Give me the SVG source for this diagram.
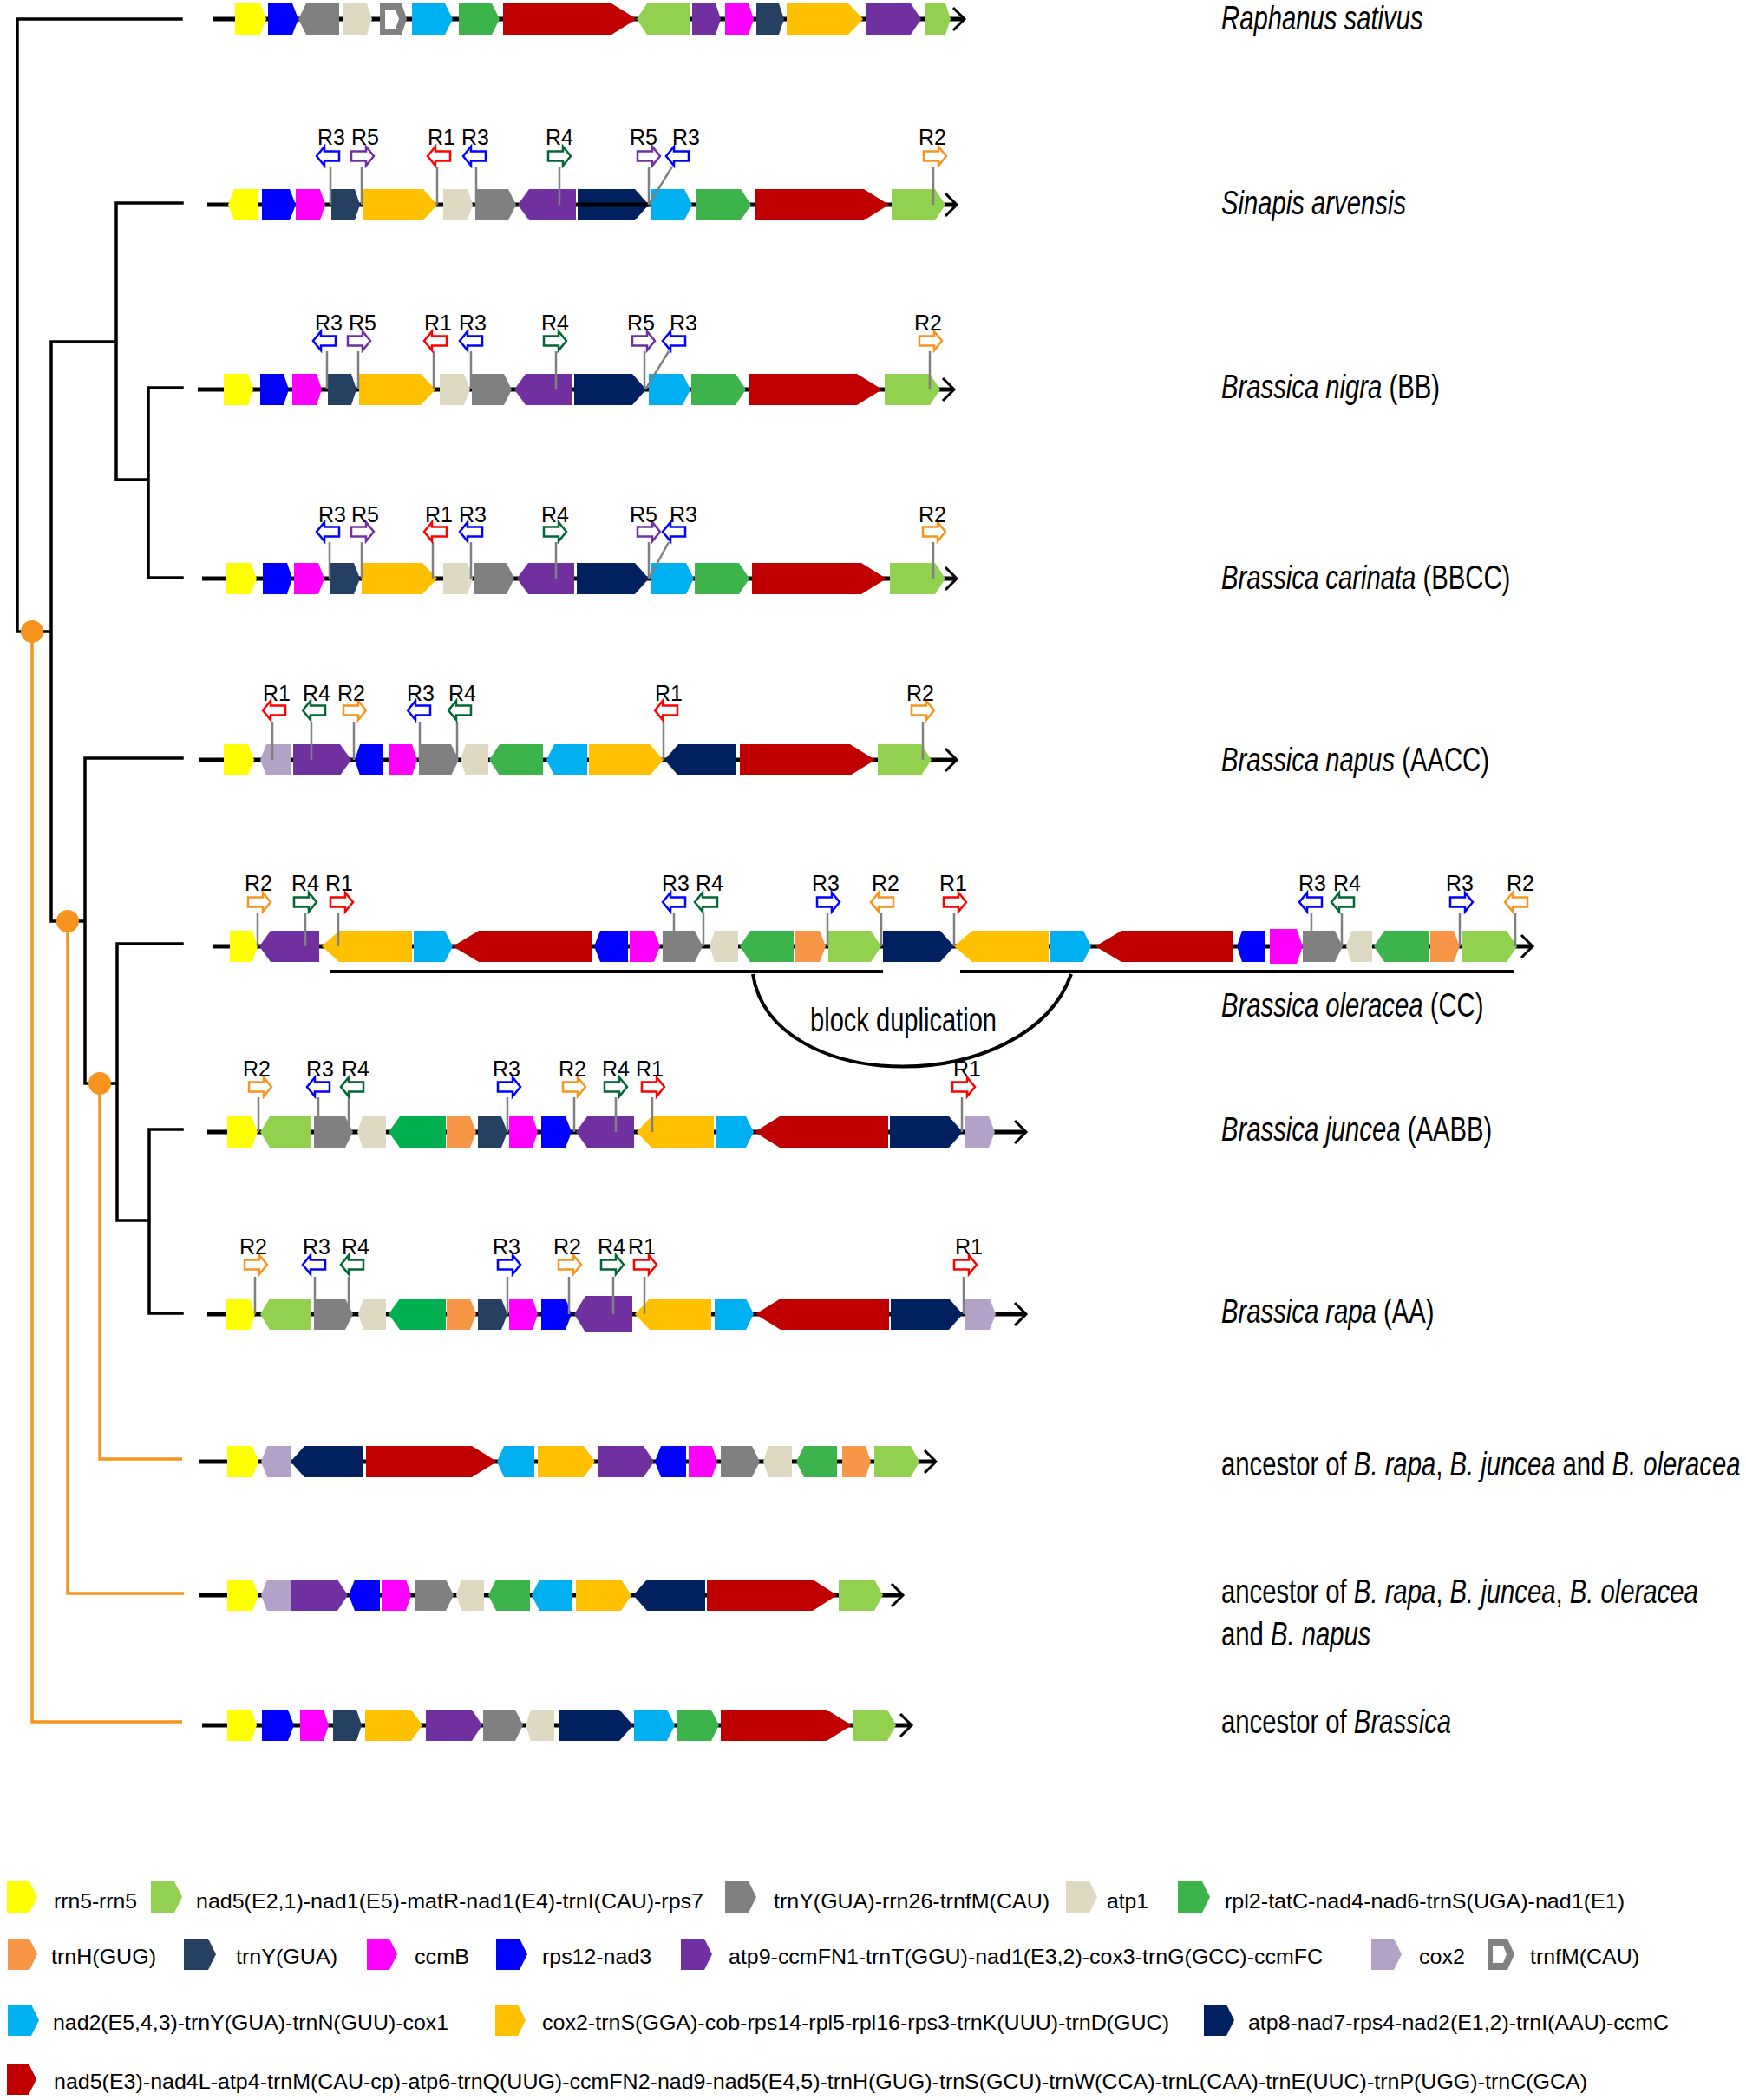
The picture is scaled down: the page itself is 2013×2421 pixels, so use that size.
<svg xmlns="http://www.w3.org/2000/svg" width="2013" height="2421" viewBox="0 0 2013 2421">
<style>
.y{fill:#FFFF00}.b{fill:#0000FF}.g{fill:#808080}.be{fill:#DDD9C3}.lb{fill:#00B0F0}.gr{fill:#3CB44B}.dg{fill:#00B050}.r{fill:#C00000}.lg{fill:#92D050}.p{fill:#7030A0}.m{fill:#FF00FF}.s{fill:#254061}.go{fill:#FFC000}.n{fill:#002060}.o{fill:#F79646}.li{fill:#B3A2C7}.w{fill:#FFFFFF}
.gl{stroke:#000;stroke-width:5;fill:none}
.ch{fill:none;stroke:#000;stroke-width:3}
.st{stroke:#808080;stroke-width:2.5;fill:none}
.mk{fill:#fff;stroke-width:2.5}
.kr{stroke:#FF0000}.kb{stroke:#0000FF}.kg{stroke:#006633}.kp{stroke:#7030A0}.ko{stroke:#F7941D}
.rl{font-family:"Liberation Sans",Arial,sans-serif;font-size:25px;text-anchor:middle;fill:#000}
.sp{font-family:"Liberation Sans",Arial,sans-serif;font-size:38px;fill:#000}
.lt{font-family:"Liberation Sans",Arial,sans-serif;font-size:24px;fill:#000}
.it{font-style:italic}
.tr{stroke:#000;stroke-width:3.5;fill:none;stroke-linecap:square}
.to{stroke:#F7941D;stroke-width:3.5;fill:none}
.ul{stroke:#000;stroke-width:4;fill:none}
</style>
<defs>
<path id="mR" d="M-13,-5.5 H4 V-11 L13,0 L4,11 V5.5 H-13 Z"/>
<path id="mL" d="M13,-5.5 H-4 V-11 L-13,0 L-4,11 V5.5 H13 Z"/>
</defs>

<g id="tree">
<path class="tr" d="M20 22 H209 M20 22 V728 H59 M59 394 V1062 M59 394 H134 M134 234 V553 M134 234 H210 M134 553 H171 M171 447 V666 M171 447 H210 M171 666 H210 M59 1062 H98 M98 874 V1249 M98 874 H210 M98 1249 H135 M135 1088 V1407 M135 1088 H210 M135 1407 H172 M172 1302 V1514 M172 1302 H210 M172 1514 H210"/>
<path class="to" d="M37 728 V1985 H210 M78 1062 V1837 H212 M115 1249 V1682 H210"/>
<circle cx="37" cy="728" r="13" fill="#F7941D"/>
<circle cx="78" cy="1062" r="13" fill="#F7941D"/>
<circle cx="115" cy="1249" r="13" fill="#F7941D"/>
</g>

<g id="row-raphanus">
<path class="gl" d="M245 22 H1111"/><path class="ch" d="M1099 9 L1112 22 L1099 35"/>
<polygon class="y" points="271,4 300,4 307,22 300,40 271,40"/>
<polygon class="b" points="309,4 337,4 344,22 337,40 309,40"/>
<polygon class="g" points="344,22 353,4 391,4 391,40 353,40"/>
<polygon class="be" points="395,4 423,4 429,22 423,40 395,40"/>
<polygon class="g" points="438,4 463,4 469,22 463,40 438,40"/>
<polygon class="w" points="444,11 456,11 460,22 456,33 444,33"/>
<polygon class="lb" points="475,4 513,4 522,22 513,40 475,40"/>
<polygon class="gr" points="529,4 567,4 576,22 567,40 529,40"/>
<polygon class="r" points="580,4 705,4 734,22 705,40 580,40"/>
<polygon class="lg" points="734,22 746,4 795,4 795,40 746,40"/>
<polygon class="p" points="798,4 825,4 831,22 825,40 798,40"/>
<polygon class="m" points="836,4 863,4 869,22 863,40 836,40"/>
<polygon class="s" points="872,4 898,4 904,22 898,40 872,40"/>
<polygon class="go" points="907,4 978,4 995,22 978,40 907,40"/>
<polygon class="p" points="998,4 1050,4 1062,22 1050,40 998,40"/>
<polygon class="lg" points="1066,4 1090,4 1096,22 1090,40 1066,40"/>
<text class="sp it" transform="translate(1408,34) scale(0.77,1)">Raphanus sativus</text>
</g>

<g id="row-sinapis">
<path class="gl" d="M239 236 H1102"/><path class="ch" d="M1090 223 L1103 236 L1090 249"/>
<polygon class="y" points="263,236 270,218 298,218 298,254 270,254"/>
<polygon class="b" points="302,218 334,218 341,236 334,254 302,254"/>
<polygon class="m" points="341,218 369,218 375,236 369,254 341,254"/>
<polygon class="s" points="382,218 409,218 415,236 409,254 382,254"/>
<polygon class="go" points="419,218 488,218 504,236 488,254 419,254"/>
<polygon class="be" points="511,218 539,218 545,236 539,254 511,254"/>
<polygon class="g" points="548,218 586,218 595,236 586,254 548,254"/>
<polygon class="p" points="597,236 610,218 664,218 664,254 610,254"/>
<polygon class="n" points="666,218 732,218 748,236 732,254 666,254"/>
<path class="gl" d="M666 236 H748"/>
<polygon class="lb" points="751,218 789,218 798,236 789,254 751,254"/>
<polygon class="gr" points="802,218 854,218 866,236 854,254 802,254"/>
<polygon class="r" points="870,218 996,218 1025,236 996,254 870,254"/>
<polygon class="lg" points="1028,218 1078,218 1090,236 1078,254 1028,254"/>
<path class="st" d="M381 192 V236 M417 192 V236 M504 192 V236 M549 192 V236 M645 192 V236 M748 192 V236 M775 192 L748 236 M1076 192 V236"/>
<use href="#mL" x="378" y="180" class="mk kb"/>
<use href="#mR" x="418" y="180" class="mk kp"/>
<use href="#mL" x="506" y="180" class="mk kr"/>
<use href="#mL" x="547" y="180" class="mk kb"/>
<use href="#mR" x="645" y="180" class="mk kg"/>
<use href="#mR" x="748" y="180" class="mk kp"/>
<use href="#mL" x="781" y="180" class="mk kb"/>
<use href="#mR" x="1078" y="180" class="mk ko"/>
<text class="rl" x="382" y="167">R3</text><text class="rl" x="421" y="167">R5</text><text class="rl" x="509" y="167">R1</text><text class="rl" x="548" y="167">R3</text><text class="rl" x="645" y="167">R4</text><text class="rl" x="742" y="167">R5</text><text class="rl" x="791" y="167">R3</text><text class="rl" x="1075" y="167">R2</text>
<text class="sp it" transform="translate(1408,247) scale(0.77,1)">Sinapis arvensis</text>
</g>

<g id="row-nigra">
<path class="gl" d="M228 449 H1099"/><path class="ch" d="M1087 436 L1100 449 L1087 462"/>
<polygon class="y" points="258,431 286,431 292,449 286,467 258,467"/>
<polygon class="b" points="300,431 327,431 333,449 327,467 300,467"/>
<polygon class="m" points="337,431 365,431 371,449 365,467 337,467"/>
<polygon class="s" points="378,431 405,431 411,449 405,467 378,467"/>
<polygon class="go" points="414,431 485,431 502,449 485,467 414,467"/>
<polygon class="be" points="507,431 535,431 542,449 535,467 507,467"/>
<polygon class="g" points="544,431 581,431 590,449 581,467 544,467"/>
<polygon class="p" points="593,449 606,431 659,431 659,467 606,467"/>
<polygon class="n" points="662,431 729,431 745,449 729,467 662,467"/>
<polygon class="lb" points="748,431 787,431 796,449 787,467 748,467"/>
<polygon class="gr" points="797,431 848,431 860,449 848,467 797,467"/>
<polygon class="r" points="863,431 988,431 1017,449 988,467 863,467"/>
<polygon class="lg" points="1020,431 1072,431 1084,449 1072,467 1020,467"/>
<path class="st" d="M377 405 V449 M413 405 V449 M500 405 V449 M543 405 V449 M641 405 V449 M743 405 V449 M771 405 L744 449 M1072 405 V449"/>
<use href="#mL" x="374" y="393" class="mk kb"/>
<use href="#mR" x="414" y="393" class="mk kp"/>
<use href="#mL" x="502" y="393" class="mk kr"/>
<use href="#mL" x="543" y="393" class="mk kb"/>
<use href="#mR" x="640" y="393" class="mk kg"/>
<use href="#mR" x="742" y="393" class="mk kp"/>
<use href="#mL" x="777" y="393" class="mk kb"/>
<use href="#mR" x="1073" y="393" class="mk ko"/>
<text class="rl" x="379" y="381">R3</text><text class="rl" x="418" y="381">R5</text><text class="rl" x="505" y="381">R1</text><text class="rl" x="545" y="381">R3</text><text class="rl" x="640" y="381">R4</text><text class="rl" x="739" y="381">R5</text><text class="rl" x="788" y="381">R3</text><text class="rl" x="1070" y="381">R2</text>
<text class="sp" transform="translate(1408,459) scale(0.77,1)"><tspan class="it">Brassica nigra</tspan> (BB)</text>
</g>

<g id="row-carinata">
<path class="gl" d="M233 667 H1102"/><path class="ch" d="M1090 654 L1103 667 L1090 680"/>
<polygon class="y" points="260,649 289,649 296,667 289,685 260,685"/>
<polygon class="b" points="303,649 331,649 337,667 331,685 303,685"/>
<polygon class="m" points="339,649 367,649 374,667 367,685 339,685"/>
<polygon class="s" points="380,649 408,649 415,667 408,685 380,685"/>
<polygon class="go" points="417,649 487,649 504,667 487,685 417,685"/>
<polygon class="be" points="511,649 539,649 545,667 539,685 511,685"/>
<polygon class="g" points="547,649 584,649 593,667 584,685 547,685"/>
<polygon class="p" points="596,667 609,649 662,649 662,685 609,685"/>
<polygon class="n" points="665,649 732,649 748,667 732,685 665,685"/>
<polygon class="lb" points="751,649 791,649 800,667 791,685 751,685"/>
<polygon class="gr" points="801,649 852,649 864,667 852,685 801,685"/>
<polygon class="r" points="867,649 993,649 1022,667 993,685 867,685"/>
<polygon class="lg" points="1026,649 1078,649 1090,667 1078,685 1026,685"/>
<path class="st" d="M380 625 V667 M417 625 V667 M499 625 V667 M543 625 V667 M641 625 V667 M748 625 V667 M771 625 L748 667 M1076 625 V667"/>
<use href="#mL" x="378" y="613" class="mk kb"/>
<use href="#mR" x="418" y="613" class="mk kp"/>
<use href="#mL" x="502" y="613" class="mk kr"/>
<use href="#mL" x="543" y="613" class="mk kb"/>
<use href="#mR" x="640" y="613" class="mk kg"/>
<use href="#mR" x="748" y="613" class="mk kp"/>
<use href="#mL" x="777" y="613" class="mk kb"/>
<use href="#mR" x="1077" y="613" class="mk ko"/>
<text class="rl" x="383" y="602">R3</text><text class="rl" x="421" y="602">R5</text><text class="rl" x="506" y="602">R1</text><text class="rl" x="545" y="602">R3</text><text class="rl" x="640" y="602">R4</text><text class="rl" x="742" y="602">R5</text><text class="rl" x="788" y="602">R3</text><text class="rl" x="1075" y="602">R2</text>
<text class="sp" transform="translate(1408,679) scale(0.77,1)"><tspan class="it">Brassica carinata</tspan> (BBCC)</text>
</g>

<g id="row-napus">
<path class="gl" d="M230 876 H1102"/><path class="ch" d="M1090 863 L1103 876 L1090 889"/>
<polygon class="y" points="258,858 286,858 293,876 286,894 258,894"/>
<polygon class="li" points="300,876 307,858 335,858 335,894 307,894"/>
<polygon class="p" points="338,858 392,858 405,876 392,894 338,894"/>
<polygon class="b" points="409,876 415,858 441,858 441,894 415,894"/>
<polygon class="m" points="448,858 475,858 481,876 475,894 448,894"/>
<polygon class="g" points="483,858 520,858 529,876 520,894 483,894"/>
<polygon class="be" points="531,876 537,858 563,858 563,894 537,894"/>
<polygon class="gr" points="564,876 576,858 626,858 626,894 576,894"/>
<polygon class="lb" points="630,876 639,858 677,858 677,894 639,894"/>
<polygon class="go" points="679,858 749,858 765,876 749,894 679,894"/>
<polygon class="n" points="766,876 782,858 848,858 848,894 782,894"/>
<polygon class="r" points="853,858 980,858 1009,876 980,894 853,894"/>
<polygon class="lg" points="1012,858 1062,858 1074,876 1062,894 1012,894"/>
<path class="st" d="M314 832 V876 M359 832 V876 M408 832 V876 M484 832 V876 M527 832 V876 M765 832 V876 M1064 832 V876"/>
<use href="#mL" x="316" y="819" class="mk kr"/>
<use href="#mL" x="362" y="819" class="mk kg"/>
<use href="#mR" x="409" y="819" class="mk ko"/>
<use href="#mL" x="483" y="819" class="mk kb"/>
<use href="#mL" x="530" y="819" class="mk kg"/>
<use href="#mL" x="768" y="819" class="mk kr"/>
<use href="#mR" x="1064" y="819" class="mk ko"/>
<text class="rl" x="319" y="808">R1</text><text class="rl" x="365" y="808">R4</text><text class="rl" x="405" y="808">R2</text><text class="rl" x="485" y="808">R3</text><text class="rl" x="533" y="808">R4</text><text class="rl" x="771" y="808">R1</text><text class="rl" x="1061" y="808">R2</text>
<text class="sp" transform="translate(1408,889) scale(0.77,1)"><tspan class="it">Brassica napus</tspan> (AACC)</text>
</g>

<g id="row-oleracea">
<path class="gl" d="M245 1091 H1766"/><path class="ch" d="M1754 1078 L1767 1091 L1754 1104"/>
<polygon class="y" points="265,1073 291,1073 297,1091 291,1109 265,1109"/>
<polygon class="p" points="299,1091 312,1073 368,1073 368,1109 312,1109"/>
<polygon class="go" points="371,1091 391,1073 475,1073 475,1109 391,1109"/>
<polygon class="lb" points="477,1073 513,1073 522,1091 513,1109 477,1109"/>
<polygon class="r" points="522,1091 552,1073 682,1073 682,1109 552,1109"/>
<polygon class="b" points="685,1091 692,1073 724,1073 724,1109 692,1109"/>
<polygon class="m" points="726,1073 754,1073 761,1091 754,1109 726,1109"/>
<polygon class="g" points="764,1073 801,1073 810,1091 801,1109 764,1109"/>
<polygon class="be" points="818,1091 824,1073 851,1073 851,1109 824,1109"/>
<polygon class="gr" points="853,1091 865,1073 915,1073 915,1109 865,1109"/>
<polygon class="o" points="917,1073 945,1073 952,1091 945,1109 917,1109"/>
<polygon class="lg" points="955,1073 1004,1073 1016,1091 1004,1109 955,1109"/>
<polygon class="n" points="1018,1073 1084,1073 1100,1091 1084,1109 1018,1109"/>
<polygon class="go" points="1100,1091 1121,1073 1209,1073 1209,1109 1121,1109"/>
<polygon class="lb" points="1211,1073 1249,1073 1258,1091 1249,1109 1211,1109"/>
<polygon class="r" points="1263,1091 1293,1073 1421,1073 1421,1109 1293,1109"/>
<polygon class="b" points="1426,1091 1432,1073 1459,1073 1459,1109 1432,1109"/>
<polygon class="m" points="1464,1071 1495,1071 1502,1091 1495,1111 1464,1111"/>
<polygon class="g" points="1502,1073 1539,1073 1548,1091 1539,1109 1502,1109"/>
<polygon class="be" points="1552,1091 1558,1073 1582,1073 1582,1109 1558,1109"/>
<polygon class="gr" points="1584,1091 1596,1073 1647,1073 1647,1109 1596,1109"/>
<polygon class="o" points="1649,1073 1676,1073 1683,1091 1676,1109 1649,1109"/>
<polygon class="lg" points="1686,1073 1737,1073 1749,1091 1737,1109 1686,1109"/>
<path class="st" d="M297 1052 V1091 M352 1052 V1091 M390 1052 V1091 M777 1052 V1091 M811 1052 V1091 M954 1052 V1091 M1016 1052 V1091 M1100 1052 V1091 M1512 1052 V1091 M1547 1052 V1091 M1683 1052 V1091 M1747 1052 V1091"/>
<use href="#mR" x="299" y="1040" class="mk ko"/>
<use href="#mR" x="352" y="1040" class="mk kg"/>
<use href="#mR" x="394" y="1040" class="mk kr"/>
<use href="#mL" x="777" y="1040" class="mk kb"/>
<use href="#mL" x="814" y="1040" class="mk kg"/>
<use href="#mR" x="955" y="1040" class="mk kb"/>
<use href="#mL" x="1017" y="1040" class="mk ko"/>
<use href="#mR" x="1101" y="1040" class="mk kr"/>
<use href="#mL" x="1511" y="1040" class="mk kb"/>
<use href="#mL" x="1548" y="1040" class="mk kg"/>
<use href="#mR" x="1685" y="1040" class="mk kb"/>
<use href="#mL" x="1748" y="1040" class="mk ko"/>
<text class="rl" x="298" y="1027">R2</text><text class="rl" x="352" y="1027">R4</text><text class="rl" x="391" y="1027">R1</text><text class="rl" x="779" y="1027">R3</text><text class="rl" x="818" y="1027">R4</text><text class="rl" x="952" y="1027">R3</text><text class="rl" x="1021" y="1027">R2</text><text class="rl" x="1099" y="1027">R1</text><text class="rl" x="1513" y="1027">R3</text><text class="rl" x="1553" y="1027">R4</text><text class="rl" x="1683" y="1027">R3</text><text class="rl" x="1753" y="1027">R2</text>
<path class="ul" d="M380 1120 H1018 M1107 1120 H1745"/>
<path class="ul" d="M868 1123 C890 1265 1185 1265 1235 1123" stroke-width="3.5"/>
<text class="sp" x="934" y="1189" font-size="34" textLength="215" lengthAdjust="spacingAndGlyphs">block duplication</text>
<text class="sp" transform="translate(1408,1172) scale(0.77,1)"><tspan class="it">Brassica oleracea</tspan> (CC)</text>
</g>

<g id="row-juncea">
<path class="gl" d="M239 1305 H1182"/><path class="ch" d="M1170 1292 L1183 1305 L1170 1318"/>
<polygon class="y" points="262,1287 290,1287 297,1305 290,1323 262,1323"/>
<polygon class="lg" points="300,1305 311,1287 358,1287 358,1323 311,1323"/>
<polygon class="g" points="362,1287 398,1287 407,1305 398,1323 362,1323"/>
<polygon class="be" points="412,1305 418,1287 445,1287 445,1323 418,1323"/>
<polygon class="dg" points="448,1305 461,1287 514,1287 514,1323 461,1323"/>
<polygon class="o" points="515,1287 542,1287 549,1305 542,1323 515,1323"/>
<polygon class="s" points="551,1287 578,1287 585,1305 578,1323 551,1323"/>
<polygon class="m" points="587,1287 614,1287 620,1305 614,1323 587,1323"/>
<polygon class="b" points="624,1287 652,1287 659,1305 652,1323 624,1323"/>
<polygon class="p" points="664,1305 677,1287 731,1287 731,1323 677,1323"/>
<polygon class="go" points="734,1305 751,1287 823,1287 823,1323 751,1323"/>
<polygon class="lb" points="826,1287 860,1287 869,1305 860,1323 826,1323"/>
<polygon class="r" points="870,1305 899,1287 1024,1287 1024,1323 899,1323"/>
<polygon class="n" points="1026,1287 1094,1287 1110,1305 1094,1323 1026,1323"/>
<polygon class="li" points="1112,1287 1140,1287 1147,1305 1140,1323 1112,1323"/>
<path class="st" d="M298 1265 V1305 M367 1265 V1305 M402 1265 V1305 M585 1265 V1305 M662 1265 V1305 M710 1265 V1305 M752 1265 V1305 M1109 1265 V1305"/>
<use href="#mR" x="300" y="1253" class="mk ko"/>
<use href="#mL" x="367" y="1253" class="mk kb"/>
<use href="#mL" x="406" y="1253" class="mk kg"/>
<use href="#mR" x="587" y="1253" class="mk kb"/>
<use href="#mR" x="662" y="1253" class="mk ko"/>
<use href="#mR" x="710" y="1253" class="mk kg"/>
<use href="#mR" x="753" y="1253" class="mk kr"/>
<use href="#mR" x="1111" y="1253" class="mk kr"/>
<text class="rl" x="296" y="1241">R2</text><text class="rl" x="369" y="1241">R3</text><text class="rl" x="410" y="1241">R4</text><text class="rl" x="584" y="1241">R3</text><text class="rl" x="660" y="1241">R2</text><text class="rl" x="710" y="1241">R4</text><text class="rl" x="749" y="1241">R1</text><text class="rl" x="1115" y="1241">R1</text>
<text class="sp" transform="translate(1408,1315) scale(0.77,1)"><tspan class="it">Brassica juncea</tspan> (AABB)</text>
</g>

<g id="row-rapa">
<path class="gl" d="M239 1515 H1182"/><path class="ch" d="M1170 1502 L1183 1515 L1170 1528"/>
<polygon class="y" points="260,1497 288,1497 294,1515 288,1533 260,1533"/>
<polygon class="lg" points="300,1515 311,1497 358,1497 358,1533 311,1533"/>
<polygon class="g" points="362,1497 398,1497 407,1515 398,1533 362,1533"/>
<polygon class="be" points="413,1515 419,1497 445,1497 445,1533 419,1533"/>
<polygon class="dg" points="448,1515 461,1497 514,1497 514,1533 461,1533"/>
<polygon class="o" points="515,1497 542,1497 549,1515 542,1533 515,1533"/>
<polygon class="s" points="551,1497 578,1497 585,1515 578,1533 551,1533"/>
<polygon class="m" points="587,1497 614,1497 620,1515 614,1533 587,1533"/>
<polygon class="b" points="624,1497 652,1497 659,1515 652,1533 624,1533"/>
<polygon class="p" points="662,1515 675,1494 729,1494 729,1536 675,1536"/>
<polygon class="go" points="732,1515 749,1497 820,1497 820,1533 749,1533"/>
<polygon class="lb" points="824,1497 860,1497 869,1515 860,1533 824,1533"/>
<polygon class="r" points="871,1515 900,1497 1025,1497 1025,1533 900,1533"/>
<polygon class="n" points="1027,1497 1094,1497 1110,1515 1094,1533 1027,1533"/>
<polygon class="li" points="1113,1497 1141,1497 1148,1515 1141,1533 1113,1533"/>
<path class="st" d="M294 1472 V1515 M363 1472 V1515 M402 1472 V1515 M585 1472 V1515 M656 1472 V1515 M707 1472 V1515 M743 1472 V1515 M1111 1472 V1515"/>
<use href="#mR" x="295" y="1458" class="mk ko"/>
<use href="#mL" x="362" y="1458" class="mk kb"/>
<use href="#mL" x="406" y="1458" class="mk kg"/>
<use href="#mR" x="587" y="1458" class="mk kb"/>
<use href="#mR" x="657" y="1458" class="mk ko"/>
<use href="#mR" x="706" y="1458" class="mk kg"/>
<use href="#mR" x="744" y="1458" class="mk kr"/>
<use href="#mR" x="1113" y="1458" class="mk kr"/>
<text class="rl" x="292" y="1446">R2</text><text class="rl" x="365" y="1446">R3</text><text class="rl" x="410" y="1446">R4</text><text class="rl" x="584" y="1446">R3</text><text class="rl" x="654" y="1446">R2</text><text class="rl" x="705" y="1446">R4</text><text class="rl" x="740" y="1446">R1</text><text class="rl" x="1117" y="1446">R1</text>
<text class="sp" transform="translate(1408,1525) scale(0.77,1)"><tspan class="it">Brassica rapa</tspan> (AA)</text>
</g>

<g id="row-ancestor-rjo">
<path class="gl" d="M230 1685 H1078"/><path class="ch" d="M1066 1672 L1079 1685 L1066 1698"/>
<polygon class="y" points="262,1667 291,1667 298,1685 291,1703 262,1703"/>
<polygon class="li" points="301,1685 308,1667 335,1667 335,1703 308,1703"/>
<polygon class="n" points="335,1685 351,1667 418,1667 418,1703 351,1703"/>
<polygon class="r" points="422,1667 544,1667 573,1685 544,1703 422,1703"/>
<polygon class="lb" points="573,1685 581,1667 616,1667 616,1703 581,1703"/>
<polygon class="go" points="620,1667 673,1667 686,1685 673,1703 620,1703"/>
<polygon class="p" points="689,1667 742,1667 754,1685 742,1703 689,1703"/>
<polygon class="b" points="755,1685 762,1667 791,1667 791,1703 762,1703"/>
<polygon class="m" points="794,1667 821,1667 827,1685 821,1703 794,1703"/>
<polygon class="g" points="831,1667 867,1667 876,1685 867,1703 831,1703"/>
<polygon class="be" points="880,1685 886,1667 913,1667 913,1703 886,1703"/>
<polygon class="gr" points="918,1685 927,1667 965,1667 965,1703 927,1703"/>
<polygon class="o" points="971,1667 998,1667 1004,1685 998,1703 971,1703"/>
<polygon class="lg" points="1008,1667 1050,1667 1060,1685 1050,1703 1008,1703"/>
<text class="sp" transform="translate(1408,1701) scale(0.77,1)">ancestor of <tspan class="it">B. rapa</tspan>, <tspan class="it">B. juncea</tspan> and <tspan class="it">B. oleracea</tspan></text>
</g>

<g id="row-ancestor-rjon">
<path class="gl" d="M230 1839 H1040"/><path class="ch" d="M1028 1826 L1041 1839 L1028 1852"/>
<polygon class="y" points="262,1821 291,1821 298,1839 291,1857 262,1857"/>
<polygon class="li" points="301,1839 308,1821 335,1821 335,1857 308,1857"/>
<polygon class="p" points="336,1821 389,1821 401,1839 389,1857 336,1857"/>
<polygon class="b" points="402,1839 409,1821 438,1821 438,1857 409,1857"/>
<polygon class="m" points="440,1821 468,1821 474,1839 468,1857 440,1857"/>
<polygon class="g" points="478,1821 514,1821 523,1839 514,1857 478,1857"/>
<polygon class="be" points="526,1839 532,1821 558,1821 558,1857 532,1857"/>
<polygon class="gr" points="563,1839 572,1821 611,1821 611,1857 572,1857"/>
<polygon class="lb" points="613,1839 622,1821 660,1821 660,1857 622,1857"/>
<polygon class="go" points="664,1821 716,1821 728,1839 716,1857 664,1857"/>
<polygon class="n" points="730,1839 746,1821 813,1821 813,1857 746,1857"/>
<polygon class="r" points="815,1821 937,1821 965,1839 937,1857 815,1857"/>
<polygon class="lg" points="967,1821 1008,1821 1018,1839 1008,1857 967,1857"/>
<text class="sp" transform="translate(1408,1848) scale(0.77,1)">ancestor of <tspan class="it">B. rapa</tspan>, <tspan class="it">B. juncea</tspan>, <tspan class="it">B. oleracea</tspan></text>
<text class="sp" transform="translate(1408,1897) scale(0.77,1)">and <tspan class="it">B. napus</tspan></text>
</g>

<g id="row-ancestor-brassica">
<path class="gl" d="M233 1989 H1050"/><path class="ch" d="M1038 1976 L1051 1989 L1038 2002"/>
<polygon class="y" points="262,1971 290,1971 296,1989 290,2007 262,2007"/>
<polygon class="b" points="302,1971 332,1971 339,1989 332,2007 302,2007"/>
<polygon class="m" points="346,1971 373,1971 379,1989 373,2007 346,2007"/>
<polygon class="s" points="384,1971 411,1971 417,1989 411,2007 384,2007"/>
<polygon class="go" points="421,1971 474,1971 487,1989 474,2007 421,2007"/>
<polygon class="p" points="491,1971 544,1971 556,1989 544,2007 491,2007"/>
<polygon class="g" points="557,1971 594,1971 603,1989 594,2007 557,2007"/>
<polygon class="be" points="606,1989 612,1971 639,1971 639,2007 612,2007"/>
<polygon class="n" points="645,1971 714,1971 730,1989 714,2007 645,2007"/>
<polygon class="lb" points="731,1971 769,1971 778,1989 769,2007 731,2007"/>
<polygon class="gr" points="780,1971 820,1971 829,1989 820,2007 780,2007"/>
<polygon class="r" points="831,1971 953,1971 982,1989 953,2007 831,2007"/>
<polygon class="lg" points="983,1971 1023,1971 1033,1989 1023,2007 983,2007"/>
<text class="sp" transform="translate(1408,1998) scale(0.77,1)">ancestor of <tspan class="it">Brassica</tspan></text>
</g>

<g id="legend">
<polygon class="y" points="8,2169 34,2169 43,2187 34,2205 8,2205"/>
<text class="lt" x="62" y="2200" textLength="96" lengthAdjust="spacingAndGlyphs">rrn5-rrn5</text>
<polygon class="lg" points="174,2169 201,2169 210,2187 201,2205 174,2205"/>
<text class="lt" x="226" y="2200" textLength="585" lengthAdjust="spacingAndGlyphs">nad5(E2,1)-nad1(E5)-matR-nad1(E4)-trnI(CAU)-rps7</text>
<polygon class="g" points="836,2169 863,2169 872,2187 863,2205 836,2205"/>
<text class="lt" x="892" y="2200" textLength="318" lengthAdjust="spacingAndGlyphs">trnY(GUA)-rrn26-trnfM(CAU)</text>
<polygon class="be" points="1229,2169 1256,2169 1265,2187 1256,2205 1229,2205"/>
<text class="lt" x="1276" y="2200" textLength="48" lengthAdjust="spacingAndGlyphs">atp1</text>
<polygon class="gr" points="1358,2169 1386,2169 1395,2187 1386,2205 1358,2205"/>
<text class="lt" x="1412" y="2200" textLength="461" lengthAdjust="spacingAndGlyphs">rpl2-tatC-nad4-nad6-trnS(UGA)-nad1(E1)</text>

<polygon class="o" points="9,2235 34,2235 43,2253 34,2271 9,2271"/>
<text class="lt" x="59" y="2264" textLength="121" lengthAdjust="spacingAndGlyphs">trnH(GUG)</text>
<polygon class="s" points="212,2235 240,2235 249,2253 240,2271 212,2271"/>
<text class="lt" x="272" y="2264" textLength="117" lengthAdjust="spacingAndGlyphs">trnY(GUA)</text>
<polygon class="m" points="423,2235 449,2235 458,2253 449,2271 423,2271"/>
<text class="lt" x="478" y="2264" textLength="63" lengthAdjust="spacingAndGlyphs">ccmB</text>
<polygon class="b" points="572,2235 599,2235 608,2253 599,2271 572,2271"/>
<text class="lt" x="625" y="2264" textLength="126" lengthAdjust="spacingAndGlyphs">rps12-nad3</text>
<polygon class="p" points="785,2235 812,2235 821,2253 812,2271 785,2271"/>
<text class="lt" x="840" y="2264" textLength="685" lengthAdjust="spacingAndGlyphs">atp9-ccmFN1-trnT(GGU)-nad1(E3,2)-cox3-trnG(GCC)-ccmFC</text>
<polygon class="li" points="1581,2235 1607,2235 1616,2253 1607,2271 1581,2271"/>
<text class="lt" x="1636" y="2264" textLength="53" lengthAdjust="spacingAndGlyphs">cox2</text>
<polygon class="g" points="1715,2235 1738,2235 1746,2253 1738,2271 1715,2271"/>
<polygon class="w" points="1721,2243 1733,2243 1737,2253 1733,2263 1721,2263"/>
<text class="lt" x="1764" y="2264" textLength="126" lengthAdjust="spacingAndGlyphs">trnfM(CAU)</text>

<polygon class="lb" points="9,2311 36,2311 45,2329 36,2347 9,2347"/>
<text class="lt" x="61" y="2340" textLength="456" lengthAdjust="spacingAndGlyphs">nad2(E5,4,3)-trnY(GUA)-trnN(GUU)-cox1</text>
<polygon class="go" points="571,2311 597,2311 606,2329 597,2347 571,2347"/>
<text class="lt" x="625" y="2340" textLength="723" lengthAdjust="spacingAndGlyphs">cox2-trnS(GGA)-cob-rps14-rpl5-rpl16-rps3-trnK(UUU)-trnD(GUC)</text>
<polygon class="n" points="1388,2311 1414,2311 1423,2329 1414,2347 1388,2347"/>
<text class="lt" x="1439" y="2340" textLength="485" lengthAdjust="spacingAndGlyphs">atp8-nad7-rps4-nad2(E1,2)-trnI(AAU)-ccmC</text>

<polygon class="r" points="8,2379 33,2379 42,2397 33,2415 8,2415"/>
<text class="lt" x="62" y="2408" textLength="1768" lengthAdjust="spacingAndGlyphs">nad5(E3)-nad4L-atp4-trnM(CAU-cp)-atp6-trnQ(UUG)-ccmFN2-nad9-nad5(E4,5)-trnH(GUG)-trnS(GCU)-trnW(CCA)-trnL(CAA)-trnE(UUC)-trnP(UGG)-trnC(GCA)</text>
</g>
</svg>
